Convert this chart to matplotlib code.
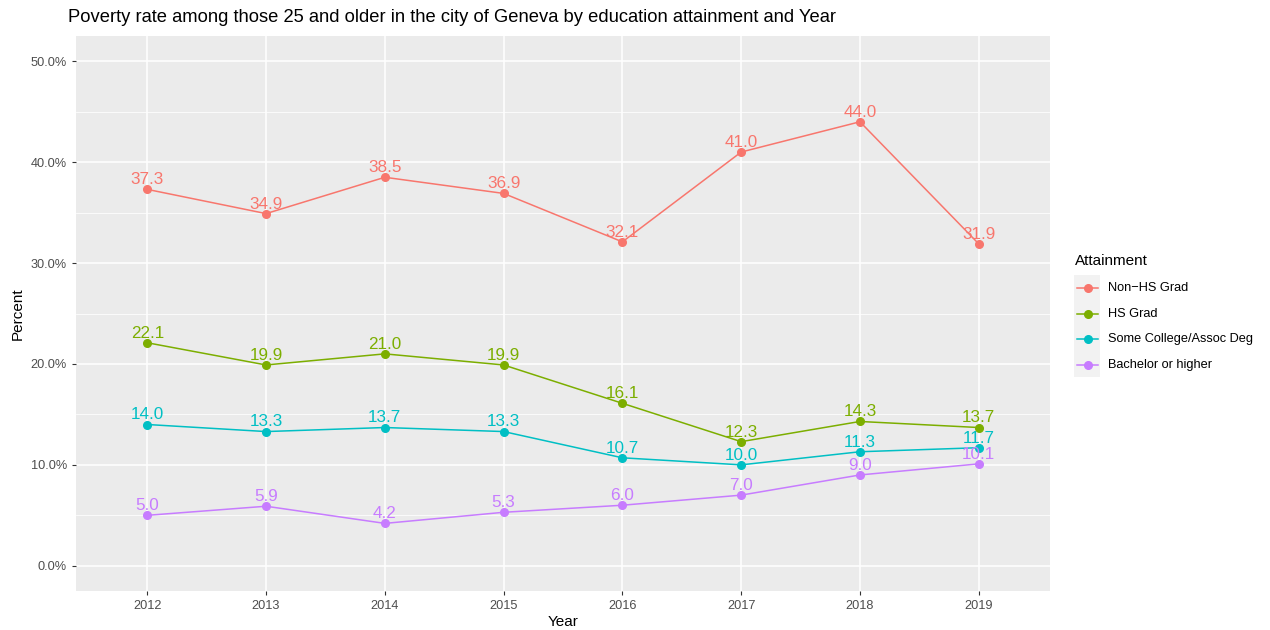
import matplotlib
matplotlib.use("Agg")
import matplotlib.pyplot as plt
from matplotlib.lines import Line2D
from matplotlib.patches import Rectangle
from matplotlib.ticker import FuncFormatter, MultipleLocator

plt.rcParams['font.family'] = ['Liberation Sans', 'DejaVu Sans']

years = [2012, 2013, 2014, 2015, 2016, 2017, 2018, 2019]
series_names = ["Non\u2212HS Grad", "HS Grad", "Some College/Assoc Deg", "Bachelor or higher"]
non_hs = [37.3, 34.9, 38.5, 36.9, 32.1, 41.0, 44.0, 31.9]
hs_grad = [22.1, 19.9, 21.0, 19.9, 16.1, 12.3, 14.3, 13.7]
some_college = [14.0, 13.3, 13.7, 13.3, 10.7, 10.0, 11.3, 11.7]
bachelor = [5.0, 5.9, 4.2, 5.3, 6.0, 7.0, 9.0, 10.1]
colors = ["#F8766D", "#7CAE00", "#00BFC4", "#C77CFF"]
all_series = [non_hs, hs_grad, some_college, bachelor]

W, H = 1270, 630
fig = plt.figure(figsize=(12.7, 6.3), dpi=100)
ax = fig.add_axes([76/W, 39/H, (1050-76)/W, (591-36)/H])
ax.set_facecolor("#EBEBEB")

for s, c, name in zip(all_series, colors, series_names):
    ax.plot(years, s, color=c, lw=1.1, marker="o", ms=5.5, zorder=3, label=name)
    for x, y in zip(years, s):
        ax.annotate(f"{y:.1f}", (x, y), xytext=(0, 1.5), textcoords="offset points",
                    ha="center", va="bottom", color=c, fontsize=12.3, zorder=4)

ax.set_xlim(2011.4, 2019.6)
ax.set_ylim(-2.5, 52.5)
ax.set_xticks(years)
ax.set_xticklabels([str(y) for y in years])
ax.yaxis.set_major_locator(MultipleLocator(10))
ax.yaxis.set_minor_locator(MultipleLocator(5))
ax.yaxis.set_major_formatter(FuncFormatter(lambda v, p: f"{v:.1f}%"))
ax.grid(which="major", color="white", lw=1.1)
ax.grid(which="minor", axis="y", color="white", lw=0.55)
ax.set_axisbelow(True)
for sp in ax.spines.values():
    sp.set_visible(False)
ax.tick_params(axis="both", which="major", length=3, color="#333333", labelcolor="#4D4D4D", labelsize=9.2)
ax.tick_params(axis="both", which="minor", length=0)
ax.set_xlabel("Year", fontsize=11, labelpad=2)
ax.set_ylabel("Percent", fontsize=11, labelpad=4)

fig.text(68/W, 1 - 17/H, "Poverty rate among those 25 and older in the city of Geneva by education attainment and Year",
         fontsize=13.2, ha="left", va="center")

# Legend (ggplot style, manual placement)
fig.text(1075/W, 1 - 261/H, "Attainment", fontsize=11, ha="left", va="center")
fig.add_artist(Rectangle((1074/W, 1 - 377/H), 26/W, 102/H, transform=fig.transFigure,
                         facecolor="#F2F2F2", edgecolor="none"))
entry_y = [288.5, 313.8, 339.2, 364.5]
for c, name, yy in zip(colors, series_names, entry_y):
    yf = 1 - yy/H
    fig.add_artist(Line2D([1077/W, 1098/W], [yf, yf], transform=fig.transFigure, color=c, lw=1.1))
    fig.add_artist(Line2D([1087.5/W], [yf], transform=fig.transFigure, color=c, marker="o", ms=5.5, lw=0))
    fig.text(1108/W, yf, name, fontsize=9.2, ha="left", va="center")

fig.savefig("out.png", dpi=100, facecolor="white")
